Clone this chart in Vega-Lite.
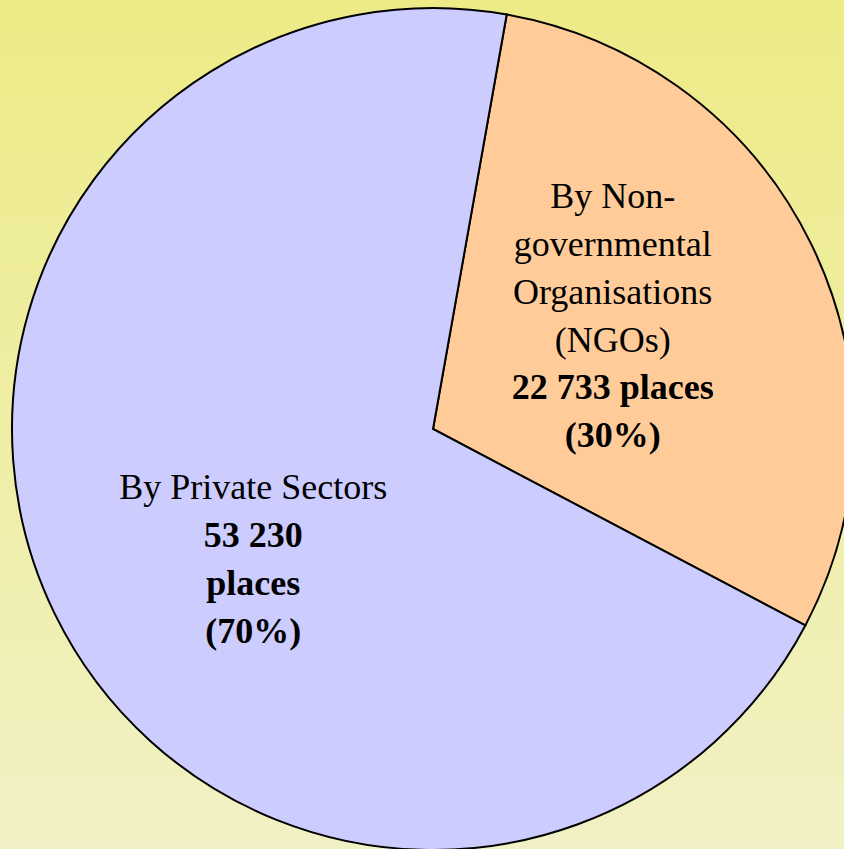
{
  "$schema": "https://vega.github.io/schema/vega-lite/v6.json",
  "width": 866,
  "height": 858,
  "autosize": {"type": "none"},
  "padding": 0,
  "background": "#EFEEA8",
  "config": {"view": {"stroke": null}, "text": {"font": "Liberation Serif"}},
  "data": {
    "values": [
      {"category": "NGOs", "places": 22733, "normal": "By Non-\ngovernmental\nOrganisations\n(NGOs)", "bold": "22 733 places\n(30%)"},
      {"category": "Private Sectors", "places": 53230, "normal": "By Private Sectors", "bold": "53 230\nplaces\n(70%)"}
    ]
  },
  "layer": [
    {
      "data": {"values": [{"bg": 1}]},
      "mark": {
        "type": "rect",
        "fill": {
          "gradient": "linear",
          "x1": 0, "y1": 0, "x2": 0, "y2": 1,
          "stops": [
            {"offset": 0, "color": "#EDEB86"},
            {"offset": 0.5, "color": "#EFEEA6"},
            {"offset": 1, "color": "#F1F1C6"}
          ]
        }
      },
      "encoding": {}
    },
    {
      "mark": {"type": "arc", "outerRadius": 421, "stroke": "#000000", "strokeWidth": 2},
      "encoding": {
        "theta": {"field": "places", "type": "quantitative", "stack": true, "scale": {"range": [0.176, 6.4592]}},
        "color": {"field": "category", "type": "nominal", "legend": null, "scale": {"domain": ["NGOs", "Private Sectors"], "range": ["#FFCC99", "#CCCCFF"]}}
      }
    },
    {
      "mark": {"type": "text", "radius": 200, "font": "Liberation Serif", "fontSize": 36, "lineHeight": 48, "lineBreak": "\n", "baseline": "alphabetic", "align": "center", "dy": -133.6},
      "encoding": {
        "theta": {"field": "places", "type": "quantitative", "stack": true},
        "order": {"field": "category", "sort": "ascending"},
        "text": {"condition": {"test": "datum.category === 'NGOs'", "field": "normal"}, "value": ""},
        "color": {"value": "#000000"}
      }
    },
    {
      "mark": {"type": "text", "radius": 200, "font": "Liberation Serif", "fontSize": 36, "fontWeight": "bold", "lineHeight": 48, "lineBreak": "\n", "baseline": "alphabetic", "align": "center", "dy": 57.4},
      "encoding": {
        "theta": {"field": "places", "type": "quantitative", "stack": true},
        "order": {"field": "category", "sort": "ascending"},
        "text": {"condition": {"test": "datum.category === 'NGOs'", "field": "bold"}, "value": ""},
        "color": {"value": "#000000"}
      }
    },
    {
      "mark": {"type": "text", "radius": 200, "font": "Liberation Serif", "fontSize": 36, "lineHeight": 48, "lineBreak": "\n", "baseline": "alphabetic", "align": "center", "dy": -17.4},
      "encoding": {
        "theta": {"field": "places", "type": "quantitative", "stack": true},
        "order": {"field": "category", "sort": "ascending"},
        "text": {"condition": {"test": "datum.category === 'Private Sectors'", "field": "normal"}, "value": ""},
        "color": {"value": "#000000"}
      }
    },
    {
      "mark": {"type": "text", "radius": 200, "font": "Liberation Serif", "fontSize": 36, "fontWeight": "bold", "lineHeight": 48, "lineBreak": "\n", "baseline": "alphabetic", "align": "center", "dy": 30.6},
      "encoding": {
        "theta": {"field": "places", "type": "quantitative", "stack": true},
        "order": {"field": "category", "sort": "ascending"},
        "text": {"condition": {"test": "datum.category === 'Private Sectors'", "field": "bold"}, "value": ""},
        "color": {"value": "#000000"}
      }
    }
  ]
}
